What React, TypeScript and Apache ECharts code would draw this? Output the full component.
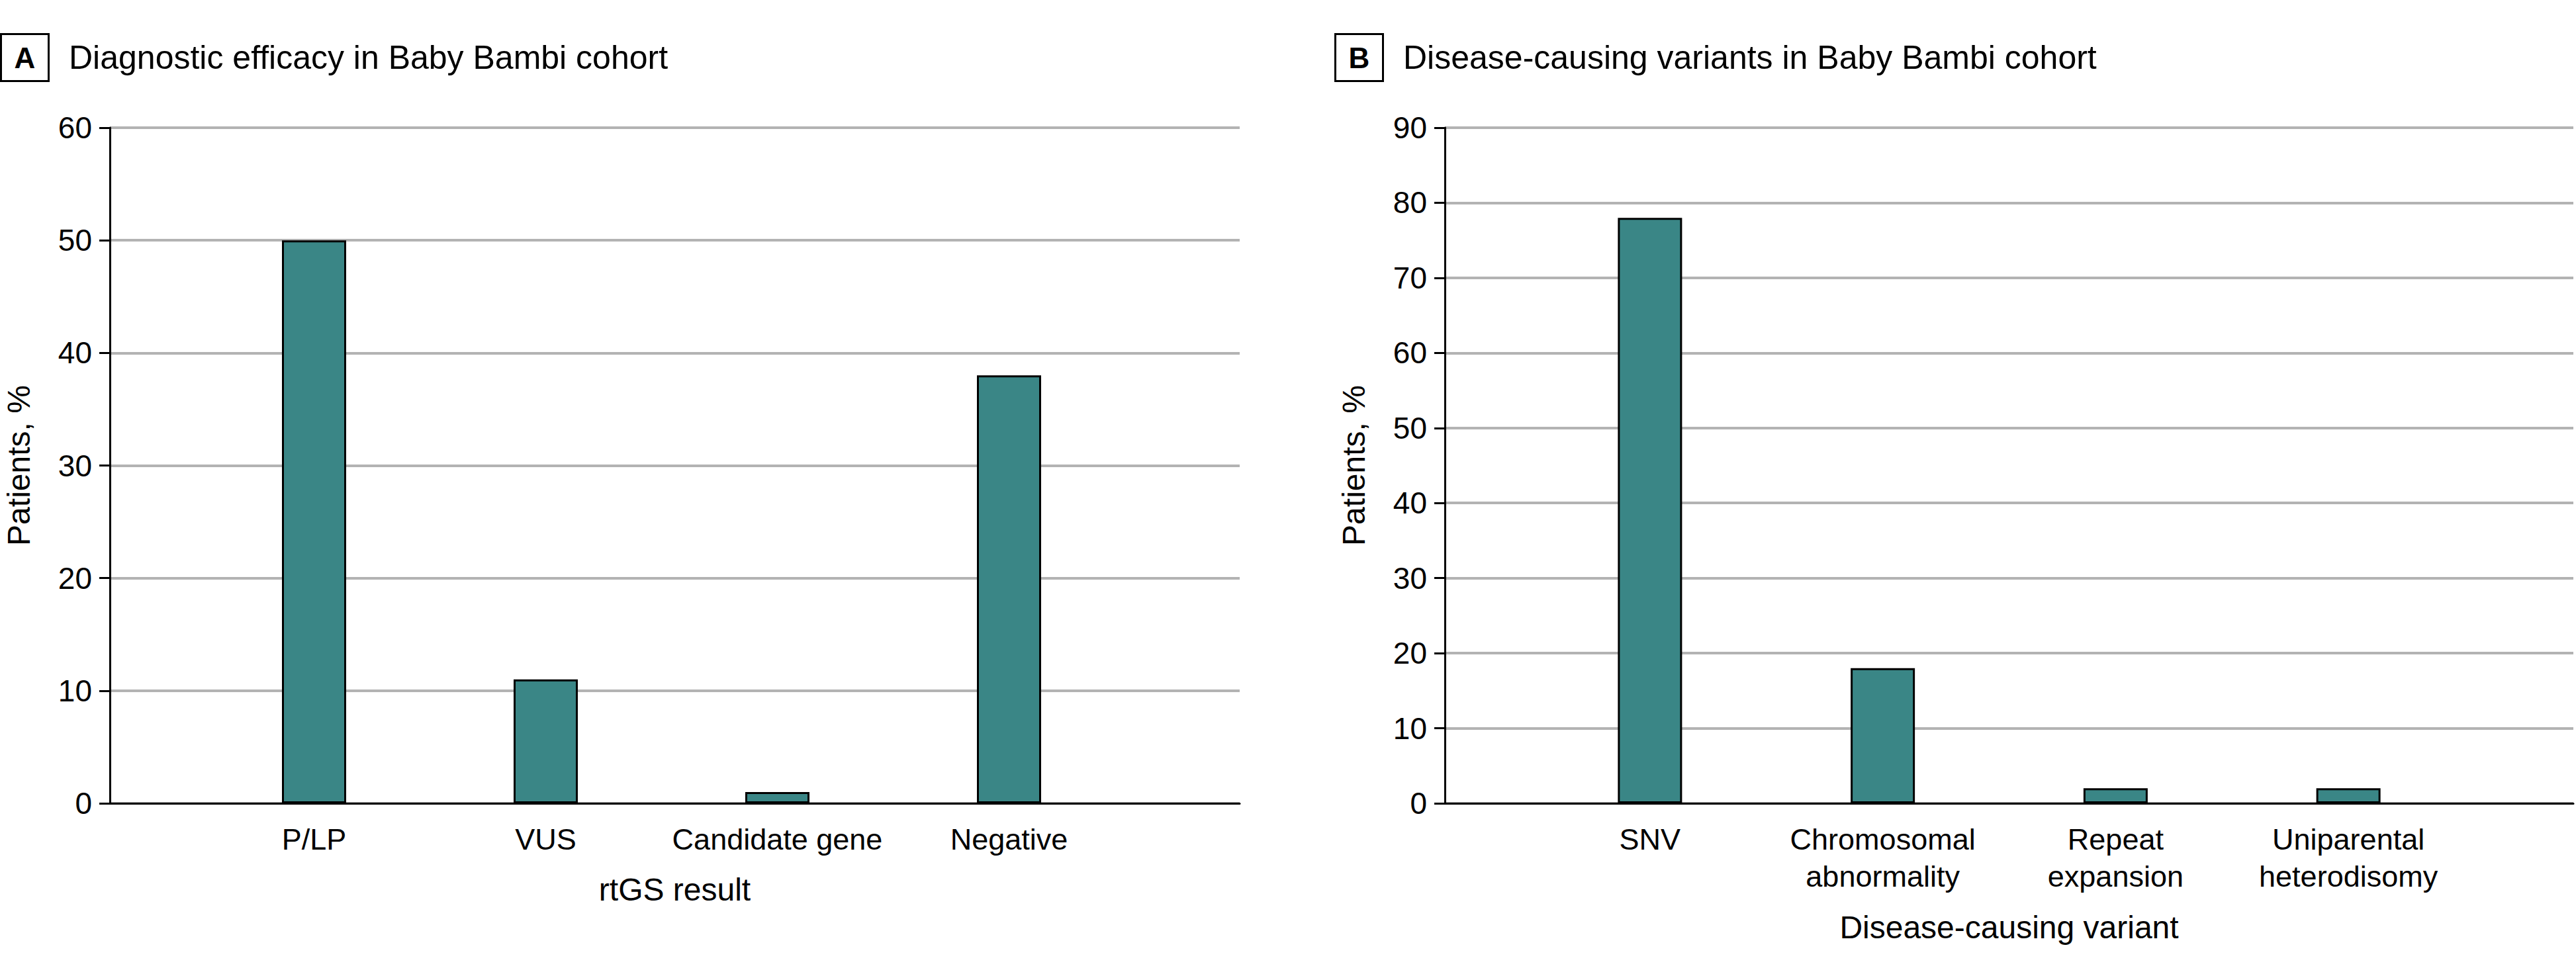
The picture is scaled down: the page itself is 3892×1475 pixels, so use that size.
import React, { useEffect, useRef } from "react";
import * as echarts from "echarts";

// ---- Data ----
const categoriesA = ["P/LP", "VUS", "Candidate gene", "Negative"];
const valuesA = [50, 11, 1, 38];
const categoriesB = ["SNV", "Chromosomal\nabnormality", "Repeat\nexpansion", "Uniparental\nheterodisomy"];
const valuesB = [78, 18, 2, 2];
const yMaxA = 60;
const yMaxB = 90;
const yStep = 10;
const panelLetters = ["A", "B"];
const titles = ["Diagnostic efficacy in Baby Bambi cohort", "Disease-causing variants in Baby Bambi cohort"];
const yNames = ["Patients, %", "Patients, %"];
const xNames = ["rtGS result", "Disease-causing variant"];

const FONT = "'Liberation Sans', Arial, sans-serif";
const BAR_COLOR = "#3a8686";
const GRID_COLOR = "#b3b3b3";

export default function App() {
  const ref = useRef<HTMLDivElement>(null);

  useEffect(() => {
    if (!ref.current) return;
    const chart = echarts.init(ref.current, undefined, { renderer: "svg" });

    const TOP = 193;
    const H = 1021;
    const panelOffset = 2017;

    const axisGrid = (left: number, width: number) => ({ left, top: TOP, width, height: H });

    const frameX = (gridIndex: number, name: string, nameGap: number) => ({
      gridIndex,
      type: "value",
      min: 0,
      max: 1,
      axisLine: { show: true, onZero: false, lineStyle: { color: "#000", width: 3 } },
      axisTick: { show: false },
      axisLabel: { show: false },
      splitLine: { show: false },
      name,
      nameLocation: "middle",
      nameGap,
      nameTextStyle: { fontFamily: FONT, fontSize: 48, color: "#000" },
    });

    const catX = (gridIndex: number, data: string[]) => ({
      gridIndex,
      type: "category",
      data,
      axisLine: { show: false },
      axisTick: { show: false },
      splitLine: { show: false },
      axisLabel: {
        interval: 0,
        margin: 26,
        fontFamily: FONT,
        fontSize: 45,
        lineHeight: 56,
        color: "#000",
      },
    });

    const frameY = (gridIndex: number, max: number, name: string) => ({
      gridIndex,
      type: "value",
      min: 0,
      max,
      interval: yStep,
      axisLine: { show: true, onZero: false, lineStyle: { color: "#000", width: 3 } },
      axisTick: { show: true, inside: false, length: 16, lineStyle: { color: "#000", width: 3 } },
      axisLabel: { margin: 27, fontFamily: FONT, fontSize: 46, color: "#000" },
      splitLine: { show: true, lineStyle: { color: GRID_COLOR, width: 4 } },
      name,
      nameLocation: "middle",
      nameGap: 114,
      nameTextStyle: { fontFamily: FONT, fontSize: 48, color: "#000" },
    });

    const hiddenY = (gridIndex: number, max: number) => ({
      gridIndex,
      type: "value",
      min: 0,
      max,
      show: false,
      splitLine: { show: false },
    });

    const barSeries = (idx: number, data: number[]) => ({
      type: "bar",
      xAxisIndex: idx,
      yAxisIndex: idx,
      data,
      barWidth: 97,
      itemStyle: { color: BAR_COLOR, borderColor: "#000", borderWidth: 3 },
      z: 3,
    });

    const header = (dx: number, letter: string, title: string) => [
      {
        type: "rect",
        left: undefined,
        shape: { x: dx + 1.5, y: 51.5, width: 72, height: 71 },
        style: { fill: "#fff", stroke: "#000", lineWidth: 3 },
      },
      {
        type: "text",
        x: dx + 37.5,
        y: 87,
        style: {
          text: letter,
          fontFamily: FONT,
          fontSize: 44,
          fontWeight: "bold",
          fill: "#000",
          align: "center",
          verticalAlign: "middle",
        },
      },
      {
        type: "text",
        x: dx + 104,
        y: 87,
        style: {
          text: title,
          fontFamily: FONT,
          fontSize: 50,
          fill: "#000",
          align: "left",
          verticalAlign: "middle",
        },
      },
    ];

    const option = {
      animation: false,
      backgroundColor: "#fff",
      grid: [
        axisGrid(166, 1707),
        axisGrid(299.5, 1400),
        axisGrid(166 + panelOffset, 1705),
        axisGrid(2317, 1407),
      ],
      xAxis: [
        frameX(0, xNames[0], 106),
        catX(1, categoriesA),
        frameX(2, xNames[1], 163),
        catX(3, categoriesB),
      ],
      yAxis: [
        frameY(0, yMaxA, yNames[0]),
        hiddenY(1, yMaxA),
        frameY(2, yMaxB, yNames[1]),
        hiddenY(3, yMaxB),
      ],
      series: [barSeries(1, valuesA), barSeries(3, valuesB)],
      graphic: [
        ...header(0, panelLetters[0], titles[0]),
        ...header(2016, panelLetters[1], titles[1]),
      ],
    };

    chart.setOption(option as any);
    return () => chart.dispose();
  }, []);

  return (
    <div
      ref={ref}
      style={{ position: "fixed", left: 0, top: 0, width: 3892, height: 1475, background: "#fff" }}
    />
  );
}
